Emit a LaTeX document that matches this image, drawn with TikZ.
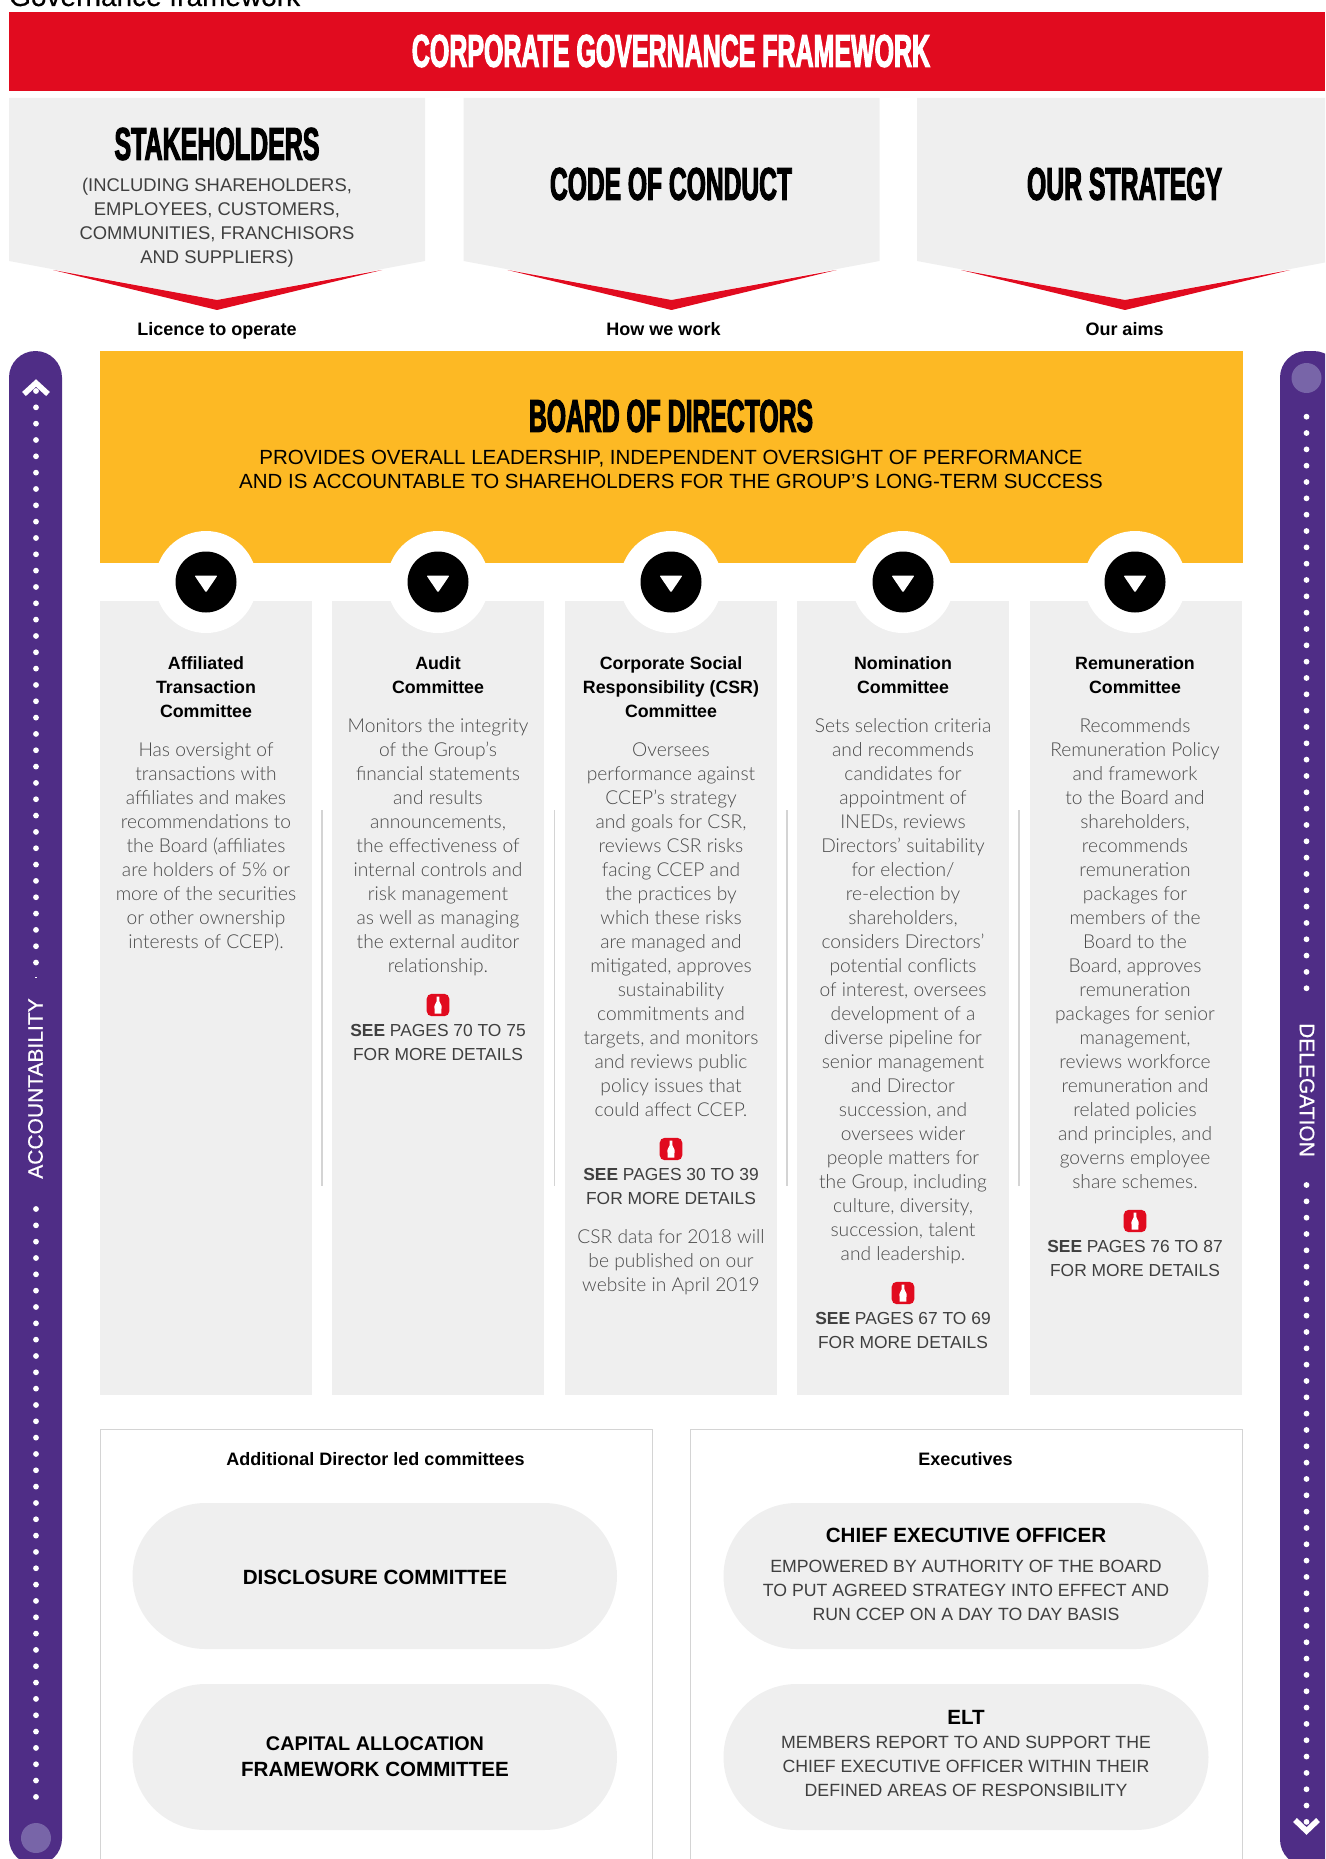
\documentclass[tikz,border=0pt]{standalone}
\usepackage{graphicx}
\usepackage{fontspec}
\setmainfont{Liberation Sans}
\newfontfamily\heavyf[FakeStretch=0.6,FakeBold=2.4]{Liberation Sans Bold}
\newfontfamily\lightf{Lato Light}
\newfontfamily\capf{Liberation Sans}
\newfontfamily\capbf[FakeBold=0.4]{Liberation Sans}
\newfontfamily\semif{Liberation Sans Bold}
\definecolor{ccred}{HTML}{E10B1F}
\definecolor{ccgrey}{HTML}{EFEFEF}
\definecolor{ccorange}{HTML}{FDB924}
\definecolor{ccpurple}{HTML}{4F2D86}
\definecolor{cclilac}{HTML}{7865A8}
\definecolor{ccbody}{HTML}{4A4A4A}
\definecolor{ccsee}{HTML}{3F3F3F}
\definecolor{ccline}{HTML}{D4D4D4}
\newcommand\stack[1]{\begin{tabular}[t]{@{}c@{}}#1\end{tabular}}
\newcommand\heavy[3]{\resizebox{#1}{#2}{\heavyf #3}}
\tikzset{
  x=1pt,y=-1pt,
  txt/.style={anchor=base,inner sep=0pt,outer sep=0pt},
  bodytxt/.style={txt,text=ccbody,font=\lightf\fontsize{19.2}{24}\selectfont},
  titletxt/.style={txt,text=black,font=\semif\fontsize{17.8}{24}\selectfont},
  seetxt/.style={txt,text=ccsee,font=\capf\fontsize{17.4}{24}\selectfont},
  captxt/.style={txt,text=ccsee,font=\capf\fontsize{17.7}{24}\selectfont},
  bartxt/.style={inner sep=0pt,text=white,font=\capbf\fontsize{21}{24}\selectfont},
  smallhead/.style={txt,text=black,font=\semif\fontsize{18}{24}\selectfont},
  pillhead/.style={txt,text=black,font=\semif\fontsize{20.6}{26}\selectfont},
  pillbox/.style={fill=ccgrey,rounded corners=73pt},
}
\newcommand\chev[1]{% x offset
  \fill[ccgrey] (#1+9,98) -- (#1+425,98) -- (#1+425,261) -- (#1+217,300) -- (#1+9,261) -- cycle;
  \fill[ccred] (#1+53,270) -- (#1+217,300) -- (#1+382,270) -- (#1+217,310) -- cycle;
}
\newcommand\column[1]{\fill[ccgrey] (#1-106,601) rectangle (#1+106,1394.5);}
\newcommand\knob[1]{
  \fill[white] (#1,582) circle (51);
  \fill[black] (#1,582) circle (30.5);
  \fill[white,rounded corners=1pt] (#1-11.5,575.5) -- (#1+11.5,575.5) -- (#1,592.5) -- cycle;
}
\newcommand\bottle[2]{
  \begin{scope}[shift={(#1,#2)}]
    \fill[ccred,rounded corners=5pt] (-11.3,-11.2) rectangle (11.3,11.2);
    \fill[white] (-1.3,-8.5) -- (1.3,-8.5) -- (1.5,-3.5) -- (3.6,1) -- (3.3,8.5) -- (-3.3,8.5) -- (-3.6,1) -- (-1.5,-3.5) -- cycle;
  \end{scope}
}
\begin{document}
\begin{tikzpicture}
\useasboundingbox (0,0) rectangle (1325,1859);
\clip (0,0) rectangle (1325,1859);
\node[anchor=base west,inner sep=0pt,font=\capbf\fontsize{28}{30}\selectfont] (pagetitle) at (9,6) {Governance framework};

% header
\fill[ccred] (9,12) rectangle (1325,91);
\node[inner sep=0pt,text=white] (maintitle) at (671,51) {\heavy{518pt}{32pt}{CORPORATE GOVERNANCE FRAMEWORK}};

\chev{0}\chev{454.5}\chev{908}
\node[inner sep=0pt] (stake) at (217,144) {\heavy{205pt}{32pt}{STAKEHOLDERS}};
\node[txt,text=ccsee,font=\capf\fontsize{18.4}{24}\selectfont] (stakesub) at (217,192) {\stack{(INCLUDING SHAREHOLDERS,\\EMPLOYEES, CUSTOMERS,\\COMMUNITIES, FRANCHISORS\\AND SUPPLIERS)}};
\node[inner sep=0pt] (code) at (671,184) {\heavy{242pt}{32pt}{CODE OF CONDUCT}};
\node[inner sep=0pt] (strategy) at (1124.5,184) {\heavy{195pt}{32pt}{OUR STRATEGY}};
\node[smallhead] (lic) at (217,335.5) {Licence to operate};
\node[smallhead] (how) at (663.5,335.5) {How we work};
\node[smallhead] (aims) at (1124.5,335.5) {Our aims};

% board
\fill[ccorange] (100,351) rectangle (1242.5,563);
\node[inner sep=0pt] (board) at (671,416) {\heavy{284pt}{32pt}{BOARD OF DIRECTORS}};
\node[txt,text=black,font=\capf\fontsize{20.5}{24.3}\selectfont] (boardsub) at (671,464) {\stack{PROVIDES OVERALL LEADERSHIP, INDEPENDENT OVERSIGHT OF PERFORMANCE\\AND IS ACCOUNTABLE TO SHAREHOLDERS FOR THE GROUP’S LONG-TERM SUCCESS}};

% columns
\column{206}\column{438}\column{671}\column{903}\column{1135.5}
\foreach \k in {206,438,671,903,1135} {\knob{\k}}
\foreach \k in {322,554.5,787,1019} {\draw[ccline,line width=1.4pt] (\k,810) -- (\k,1186);}

\node[titletxt] (t1) at (206,669) {\stack{Affiliated\\Transaction\\Committee}};
\node[bodytxt] (b1) at (206,756) {\stack{Has oversight of\\transactions with\\affiliates and makes\\recommendations to\\the Board (affiliates\\are holders of 5\% or\\more of the securities\\or other ownership\\interests of CCEP).}};

\node[titletxt] (t2) at (438,669) {\stack{Audit\\Committee}};
\node[bodytxt] (b2) at (438,732) {\stack{Monitors the integrity\\of the Group’s\\financial statements\\and results\\announcements,\\the effectiveness of\\internal controls and\\risk management\\as well as managing\\the external auditor\\relationship.}};
\bottle{438}{1005}
\node[seetxt] (s2) at (438,1036) {\stack{{\semif SEE} PAGES 70 TO 75\\FOR MORE DETAILS}};

\node[titletxt] (t3) at (671,669) {\stack{Corporate Social\\Responsibility (CSR)\\Committee}};
\node[bodytxt] (b3) at (671,756) {\stack{Oversees\\performance against\\CCEP’s strategy\\and goals for CSR,\\reviews CSR risks\\facing CCEP and\\the practices by\\which these risks\\are managed and\\mitigated, approves\\sustainability\\commitments and\\targets, and monitors\\and reviews public\\policy issues that\\could affect CCEP.}};
\bottle{671}{1149}
\node[seetxt] (s3) at (671,1180) {\stack{{\semif SEE} PAGES 30 TO 39\\FOR MORE DETAILS}};
\node[bodytxt] (n3) at (671,1243) {\stack{CSR data for 2018 will\\be published on our\\website in April 2019}};

\node[titletxt] (t4) at (903,669) {\stack{Nomination\\Committee}};
\node[bodytxt] (b4) at (903,732) {\stack{Sets selection criteria\\and recommends\\candidates for\\appointment of\\INEDs, reviews\\Directors’ suitability\\for election/\\re-election by\\shareholders,\\considers Directors’\\potential conflicts\\of interest, oversees\\development of a\\diverse pipeline for\\senior management\\and Director\\succession, and\\oversees wider\\people matters for\\the Group, including\\culture, diversity,\\succession, talent\\and leadership.}};
\bottle{903}{1293}
\node[seetxt] (s4) at (903,1324) {\stack{{\semif SEE} PAGES 67 TO 69\\FOR MORE DETAILS}};

\node[titletxt] (t5) at (1135,669) {\stack{Remuneration\\Committee}};
\node[bodytxt] (b5) at (1135,732) {\stack{Recommends\\Remuneration Policy\\and framework\\to the Board and\\shareholders,\\recommends\\remuneration\\packages for\\members of the\\Board to the\\Board, approves\\remuneration\\packages for senior\\management,\\reviews workforce\\remuneration and\\related policies\\and principles, and\\governs employee\\share schemes.}};
\bottle{1135}{1221}
\node[seetxt] (s5) at (1135,1252) {\stack{{\semif SEE} PAGES 76 TO 87\\FOR MORE DETAILS}};

% lower boxes
\draw[ccline,line width=1pt] (100,1429) rectangle (652,1880);
\draw[ccline,line width=1pt] (690,1429) rectangle (1242,1880);
\node[smallhead] (addl) at (375.5,1465) {Additional Director led committees};
\node[smallhead] (exec) at (965.5,1465) {Executives};
\fill[pillbox] (132.5,1503) rectangle (617,1649);
\fill[pillbox] (132.5,1684) rectangle (617,1830);
\fill[pillbox] (723.5,1503) rectangle (1208.5,1649);
\fill[pillbox] (723.5,1684) rectangle (1208.5,1830);
\node[pillhead] (disc) at (375,1584) {DISCLOSURE COMMITTEE};
\node[pillhead] (cap) at (375,1750) {\stack{\resizebox{218pt}{!}{CAPITAL ALLOCATION}\\FRAMEWORK COMMITTEE}};
\node[pillhead] (ceo) at (966,1542) {CHIEF EXECUTIVE OFFICER};
\node[captxt] (ceotxt) at (966,1572.5) {\stack{EMPOWERED BY AUTHORITY OF THE BOARD\\TO PUT AGREED STRATEGY INTO EFFECT AND\\RUN CCEP ON A DAY TO DAY BASIS}};
\node[pillhead] (elt) at (966,1724) {ELT};
\node[captxt] (elttxt) at (966,1748) {\stack{MEMBERS REPORT TO AND SUPPORT THE\\CHIEF EXECUTIVE OFFICER WITHIN THEIR\\DEFINED AREAS OF RESPONSIBILITY}};

% left bar
\fill[ccpurple,rounded corners=26.5pt] (9,351) rectangle (62,1865);
\foreach \k in {0,...,35} {\fill[white] (36,391+\k*16.33) circle (2.9);}
\fill[white] (35,977) rectangle (37,978);
\foreach \k in {0,...,36} {\fill[white] (36,1209+\k*16.33) circle (2.9);}
\fill[cclilac] (36,1838) circle (15);
\draw[white,line width=5.5pt,miter limit=4] (24,394) -- (36,383) -- (48,394);
\node[bartxt,rotate=90] (acc) at (35.5,1088.5) {ACCOUNTABILITY};

% right bar
\fill[ccpurple,rounded corners=26.5pt] (1280,351) rectangle (1340,1866);
\foreach \k in {0,...,35} {\fill[white] (1306.5,416.7+\k*16.33) circle (2.9);}
\foreach \k in {0,...,39} {\fill[white] (1306.5,1185+\k*16.33) circle (2.9);}
\fill[cclilac] (1306.5,378) circle (15);
\draw[white,line width=5.5pt,miter limit=4] (1295,1820) -- (1306.5,1831) -- (1318,1820);
\node[bartxt,rotate=-90] (del) at (1307,1090) {DELEGATION};
\end{tikzpicture}
\end{document}
